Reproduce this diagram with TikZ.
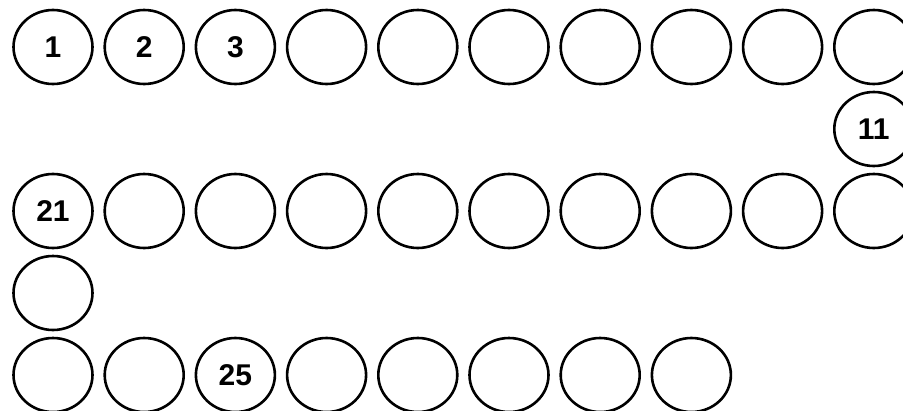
\documentclass[tikz,border=0pt]{standalone}
\usepackage{fontspec}
\setmainfont{Liberation Sans}
\usetikzlibrary{shapes.geometric}
\tikzset{
  cell/.style={draw=black, line width=2.6pt, ellipse, minimum width=79pt, minimum height=74pt, inner sep=0pt, font=\fontsize{30}{30}\selectfont\bfseries}
}
\begin{document}
\begin{tikzpicture}[x=1pt,y=-1pt]
\useasboundingbox (0,0) rectangle (903,410);
\clip (0,0) rectangle (903,410);
% row 1: 1..10
\foreach \c in {0,...,9}{
  \pgfmathtruncatemacro{\n}{\c+1}
  \ifnum\n<4
    \node[cell] (n\n) at ({53+91.2*\c},47) {\n};
  \else
    \node[cell] (n\n) at ({53+91.2*\c},47) {};
  \fi
}
% row 2: 11
\node[cell] (n11) at ({53+91.2*9},129) {11};
% row 3: 12..21 right to left
\foreach \c in {1,...,9}{
  \pgfmathtruncatemacro{\n}{21-\c}
  \node[cell] (n\n) at ({53+91.2*\c},211) {};
}
\node[cell] (n21) at (53,211) {21};
% row 4: 22
\node[cell] (n22) at (53,293) {};
% row 5: 23..30
\foreach \c in {0,...,7}{
  \pgfmathtruncatemacro{\n}{23+\c}
  \ifnum\n=25
    \node[cell] (n\n) at ({53+91.2*\c},375) {25};
  \else
    \node[cell] (n\n) at ({53+91.2*\c},375) {};
  \fi
}
\end{tikzpicture}
\end{document}
